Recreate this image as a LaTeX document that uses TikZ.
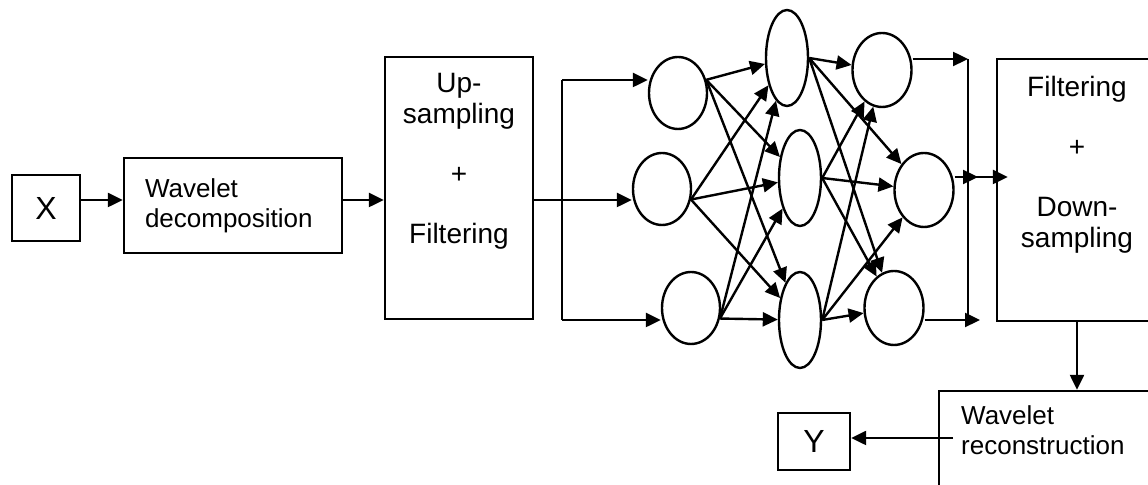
\documentclass[tikz,border=0pt]{standalone}
\usepackage{fontspec}
\setmainfont{Liberation Sans}
\usetikzlibrary{shapes.geometric, arrows.meta}

\tikzset{
  block/.style={draw, rectangle, inner sep=0pt},
  unit/.style={draw, ellipse, inner sep=0pt, minimum width=29pt, minimum height=36pt},
  tallunit/.style={unit, minimum width=21pt, minimum height=48pt},
  boxtext/.style={inner sep=0pt, align=center, font=\fontsize{14}{15.5}\selectfont},
  sidetext/.style={inner sep=0pt, align=left, font=\fontsize{13}{15}\selectfont},
  signal/.style={font=\fontsize{16}{18}\selectfont}
}

\begin{document}
\begin{tikzpicture}[x=0.5pt, y=-0.5pt, line width=1.2pt, >={Triangle[length=7.5pt,width=7pt]}]
 \useasboundingbox (0,0) rectangle (1148,485);
 \fill [white] (0,0) rectangle (1148,485);
 % blocks
 \node [block, signal, minimum width=34pt, minimum height=33pt] (X) at (46,208) {X};
 \node [block, sidetext, minimum width=109pt, minimum height=47.5pt, text width=88pt, inner xsep=10.5pt] (dec) at (233,205.5) {Wavelet\\decomposition};
 \node [block, minimum width=74pt, minimum height=131pt] (up) at (459,188) {};
 \node [boxtext] (uptext) at (459,161.5) {Up-\\sampling\\[14.5pt]+\\[14.5pt]Filtering};
 \node [block, minimum width=80pt, minimum height=131pt] (fd) at (1077,190) {};
 \node [boxtext] (fdtext) at (1077,164.5) {Filtering\\[14.5pt]+\\[14.5pt]Down-\\sampling};
 \node [block, minimum width=120pt, minimum height=54pt] (rc) at (1059,445) {};
 \node [sidetext, anchor=west] (rctext) at (960,430.7) {Wavelet\\reconstruction};
 \node [block, signal, minimum width=36pt, minimum height=28.5pt] (Y) at (814,441.5) {Y};
 % network
 \node [unit] (in1) at (678,93) {};
 \node [unit] (in2) at (662,189) {};
 \node [unit] (in3) at (691,308) {};
 \node [tallunit] (h1) at (787,58) {};
 \node [tallunit] (h2) at (800,178) {};
 \node [tallunit] (h3) at (800,320) {};
 \node [unit, minimum width=29.5pt, minimum height=37pt] (out1) at (882,70) {};
 \node [unit, minimum width=29.5pt, minimum height=37pt] (out2) at (924,190) {};
 \node [unit, minimum width=29.5pt, minimum height=37pt] (out3) at (894,308) {};
 \coordinate (sp) at (562,200);
 \coordinate (spt) at (562,80);
 \coordinate (spb) at (562,320);
 \coordinate (ct) at (968,59);
 \coordinate (cm) at (968,177);
 \coordinate (cb) at (968,320);
 \coordinate (rcin) at (953,438);
 % signal path
 \draw [->] (X.east |- sp) -- (dec.west |- sp);
 \draw [->] (dec.east |- sp) -- (up.west |- sp);
 \draw (up.east |- sp) -- (sp);
 \draw (spt) -- (spb);
 \draw [->] (spt) -- (spt -| in1.west);
 \draw [->] (sp) -- (sp -| in2.west);
 \draw [->] (spb) -- (spb -| in3.west);
 \draw [->] (in1.25) -- (h1);
 \draw [->] (in1.25) -- (h2);
 \draw [->] (in1.25) -- (h3);
 \draw [->] (in2.-20) -- (h1);
 \draw [->] (in2.-20) -- (h2);
 \draw [->] (in2.-20) -- (h3);
 \draw [->] (in3.-20) -- (h1);
 \draw [->] (in3.-20) -- (h2);
 \draw [->] (in3.-20) -- (h3);
 \draw [->] (h1.east) -- (out1);
 \draw [->] (h1.east) -- (out2);
 \draw [->] (h1.east) -- (out3);
 \draw [->] (h2.east) -- (out1);
 \draw [->] (h2.east) -- (out2);
 \draw [->] (h2.east) -- (out3);
 \draw [->] (h3.east) -- (out1);
 \draw [->] (h3.east) -- (out2);
 \draw [->] (h3.east) -- (out3);
 \draw (ct) -- (cb);
 \draw [->] (out1.east |- ct) -- (ct);
 \draw [->, shorten >=-5pt] (out2.east |- cm) -- (cm);
 \draw [->, shorten >=-6pt] (cm) -- (fd.west |- cm);
 \draw [->, shorten >=-6pt] (out3.east |- cb) -- (cb);
 \draw [->] (fd.south) -- (fd.south |- rc.north);
 \draw [->] (rcin) -- (rcin -| Y.east);
\end{tikzpicture}
\end{document}
